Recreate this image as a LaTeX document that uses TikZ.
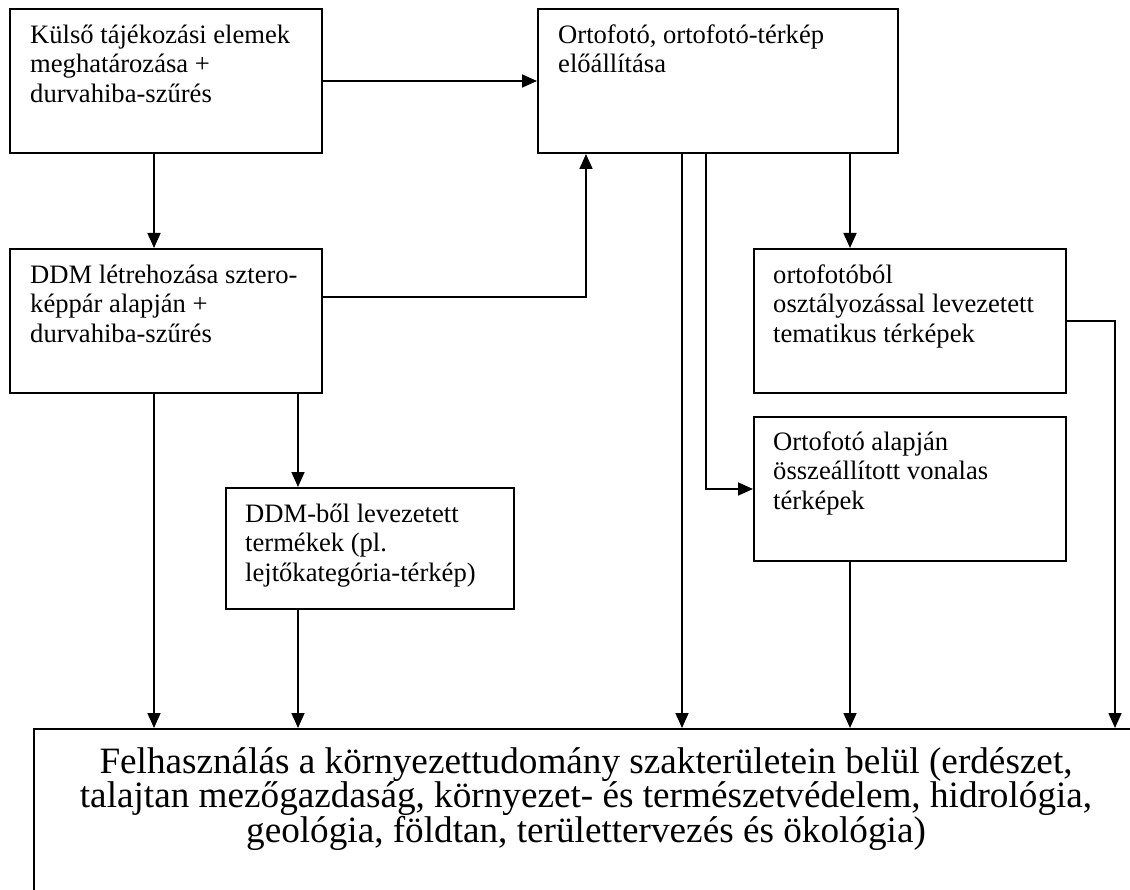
\documentclass[tikz,border=0pt]{standalone}
\usepackage{fontspec}
\setmainfont{Liberation Serif}
\usetikzlibrary{arrows.meta}
% fixed height for the first line of every text block
\newcommand{\firstline}{\rule{0pt}{20pt}}
\newcommand{\firstlinebig}{\rule{0pt}{26pt}}
\begin{document}
\begin{tikzpicture}[x=1pt,y=-1pt,
  box/.style={draw, line width=2pt, rectangle, inner sep=0pt},
  boxtext/.style={anchor=north west, inner sep=0pt, align=left,
    font=\fontsize{26.6}{29.5}\selectfont},
  flow/.style={line width=1.7pt, -{Triangle[length=15pt,width=13pt]}}]
\useasboundingbox (0,0) rectangle (1130,890);
\clip (0,0) rectangle (1130,890);
\fill[white] (0,0) rectangle (1130,890);

% process boxes
\node[box, minimum width=312pt, minimum height=144pt] (kulso) at (166,81) {};
\node[box, minimum width=360pt, minimum height=144pt] (orto) at (718,81) {};
\node[box, minimum width=312pt, minimum height=144pt] (ddm) at (166,321) {};
\node[box, minimum width=312pt, minimum height=144pt] (tema) at (910,321) {};
\node[box, minimum width=312pt, minimum height=144pt] (vonal) at (910,489) {};
\node[box, minimum width=288pt, minimum height=121pt] (termek) at (370,548.5) {};
\node[box, minimum width=1104pt, minimum height=211pt] (felh) at (586,834.5) {};

% box texts
\node[boxtext] (kulsotext) at ([shift={(21pt,-15pt)}]kulso.north west)
  {\firstline Külső tájékozási elemek\\meghatározása +\\durvahiba-szűrés};
\node[boxtext] (ortotext) at ([shift={(21pt,-15pt)}]orto.north west)
  {\firstline Ortofotó, ortofotó-térkép\\előállítása};
\node[boxtext] (ddmtext) at ([shift={(21pt,-15pt)}]ddm.north west)
  {\firstline DDM létrehozása sztero-\\képpár alapján +\\durvahiba-szűrés};
\node[boxtext] (tematext) at ([shift={(20pt,-15pt)}]tema.north west)
  {\firstline ortofotóból\\osztályozással levezetett\\tematikus térképek};
\node[boxtext] (vonaltext) at ([shift={(20pt,-14pt)}]vonal.north west)
  {\firstline Ortofotó alapján\\összeállított vonalas\\térképek};
\node[boxtext] (termektext) at ([shift={(20pt,-15pt)}]termek.north west)
  {\firstline DDM-ből levezetett\\termékek (pl.\\lejtőkategória-térkép)};
\node[anchor=north, inner sep=0pt, align=center,
      font=\fontsize{37.2}{34}\selectfont] (felhtext) at ([yshift=-19pt]felh.north)
  {\firstlinebig Felhasználás a környezettudomány szakterületein belül (erdészet,\\
   talajtan mezőgazdaság, környezet- és természetvédelem, hidrológia,\\
   geológia, földtan, területtervezés és ökológia)};

% connectors
\draw[flow] (kulso.east) -- (orto.west);
\draw[flow] ([xshift=-12pt]kulso.south) -- ([xshift=-12pt]ddm.north);
\draw[flow] ([yshift=24pt]ddm.east) -| ([xshift=-132pt]orto.south);
\draw[flow] ([xshift=-36pt]orto.south) -- ([xshift=-36pt]orto.south |- felh.north);
\draw[flow] ([xshift=-12pt]orto.south) |- (vonal.west);
\draw[flow] ([xshift=132pt]orto.south) -- ([xshift=-60pt]tema.north);
\draw[flow] (tema.east) -| ([xshift=48pt]tema.east |- felh.north);
\draw[flow] ([xshift=-60pt]vonal.south) -- ([xshift=-60pt]vonal.south |- felh.north);
\draw[flow] ([xshift=-12pt]ddm.south) -- ([xshift=-12pt]ddm.south |- felh.north);
\draw[flow] ([xshift=132pt]ddm.south) -- ([xshift=-72pt]termek.north);
\draw[flow] ([xshift=-72pt]termek.south) -- ([xshift=-72pt]termek.south |- felh.north);
\end{tikzpicture}
\end{document}
